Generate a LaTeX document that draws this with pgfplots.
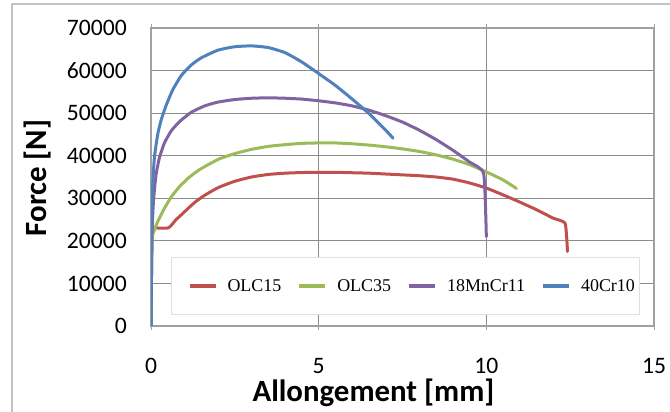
\documentclass[border=0pt]{standalone}
\usepackage{pgfplots}
\pgfplotsset{compat=1.18}
\usepackage{fontspec}
\setmainfont{Carlito}
\newfontfamily\legfont{Liberation Serif}
\definecolor{cRed}{HTML}{C0504D}
\definecolor{cGreen}{HTML}{9BBB59}
\definecolor{cPurple}{HTML}{8064A2}
\definecolor{cBlue}{HTML}{4F81BD}
\definecolor{gridgray}{RGB}{140,140,140}
\definecolor{axgray}{RGB}{160,160,160}
\definecolor{framegray}{RGB}{195,195,195}
\begin{document}
\begin{tikzpicture}
\useasboundingbox (0,0) rectangle (670bp,412bp);
\draw[color=framegray, line width=1.5bp] (12bp,0bp) -- (12bp,408bp) -- (670bp,408bp);
\begin{axis}[
  at={(151bp,86bp)}, anchor=south west,
  scale only axis, width=503bp, height=298bp,
  xmin=0, xmax=15, ymin=0, ymax=70000,
  xtick={0,5,10,15}, ytick={0,10000,20000,30000,40000,50000,60000,70000},
  grid=major, major grid style={color=gridgray, line width=1bp},
  axis line style={color=axgray, line width=1.5bp},
  tick align=outside, major tick length=4bp,
  xtick style={color=axgray, line width=1bp}, ytick style={draw=none},
  scaled y ticks=false,
  /pgf/number format/assume math mode=true,
  /pgf/number format/set thousands separator={},
  yticklabel style={anchor=east, inner sep=0pt, xshift=-20bp, font=\fontsize{23.7}{28}\selectfont},
  xticklabel style={anchor=north, inner sep=0pt, yshift=-28bp, font=\fontsize{23.7}{28}\selectfont},
  xlabel={Allongement [mm]}, ylabel={Force [N]},
  xlabel style={at={(rel axis cs:0.4423,-0.2248)}, anchor=center, font=\bfseries\fontsize{31}{36}\selectfont},
  ylabel style={at={(rel axis cs:-0.2247,0.4966)}, anchor=center, font=\bfseries\fontsize{31}{36}\selectfont},
  legend columns=4,
  legend style={at={(rel axis cs:0.0398,0.2315)}, anchor=north west,
    draw=gray!25, line width=1bp, fill=white,
    inner xsep=3bp, inner ysep=20bp,
    font=\legfont\fontsize{18}{20}\selectfont,
    /tikz/every odd column/.append style={column sep=8bp},
    /tikz/every even column/.append style={column sep=1bp}},
  legend image code/.code={\path[draw=none] (-15bp,0bp) -- (26bp,0bp);\draw[line width=4bp, line cap=butt] (0bp,0bp) -- (26bp,0bp);},
  every axis plot/.append style={line width=3bp, line join=round, line cap=round, smooth, tension=0.3},
]
\addplot[cRed, mark=none] coordinates {
(0,0) (0.03,22000) (0.08,23200) (0.2,23000) (0.5,23000) (0.6,23600) (0.75,25000)
(0.93,26300) (1.13,27800) (1.33,29200) (1.6,30700) (2.0,32500) (2.5,34000) (3.0,35000)
(3.5,35600) (4.0,35900) (4.5,36050) (5.0,36100) (5.5,36100) (6.0,36000) (6.5,35900)
(7.0,35700) (7.5,35500) (8.0,35300) (8.5,35000) (9.0,34500) (9.5,33600) (10.0,32400)
(10.5,30800) (11.0,29100) (11.5,27300) (12.0,25300) (12.35,24100) (12.42,17500)
};
\addlegendentry{OLC15}
\addplot[cGreen, mark=none] coordinates {
(0,0) (0.03,20000) (0.1,22500) (0.2,24500) (0.37,27200) (0.6,30300) (0.87,32900)
(1.15,35000) (1.46,36800) (1.8,38300) (2.05,39300) (2.5,40500) (3.0,41500) (3.5,42200)
(4.0,42600) (4.5,42900) (5.0,43000) (5.5,43000) (6.0,42800) (6.5,42500) (7.0,42100)
(7.5,41600) (8.0,41000) (8.5,40200) (9.0,39200) (9.5,37900) (10.0,36200) (10.5,34300)
(10.9,32300)
};
\addlegendentry{OLC35}
\addplot[cPurple, mark=none] coordinates {
(0,0) (0.03,22000) (0.08,30000) (0.15,35500) (0.25,39500) (0.4,43000) (0.6,45800)
(0.85,48000) (1.2,50200) (1.6,51700) (2.0,52600) (2.5,53200) (3.0,53500) (3.5,53600)
(4.0,53500) (4.5,53300) (5.0,52900) (5.5,52400) (6.0,51700) (6.5,50700) (7.0,49400)
(7.5,47900) (8.0,46000) (8.5,43800) (9.0,41300) (9.5,38500) (9.92,35800) (10.0,21000)
};
\addlegendentry{18MnCr11}
\addplot[cBlue, mark=none] coordinates {
(0,0) (0.02,25000) (0.05,33000) (0.1,39500) (0.2,45000) (0.3,48300) (0.45,51800)
(0.65,55500) (0.9,58800) (1.2,61300) (1.5,63000) (2.0,64800) (2.5,65600) (3.0,65800)
(3.5,65400) (4.0,64200) (4.5,62000) (5.0,59300) (5.5,56500) (6.0,53300) (6.5,49900)
(7.0,46000) (7.22,44100)
};
\addlegendentry{40Cr10}
\end{axis}
\end{tikzpicture}
\end{document}
